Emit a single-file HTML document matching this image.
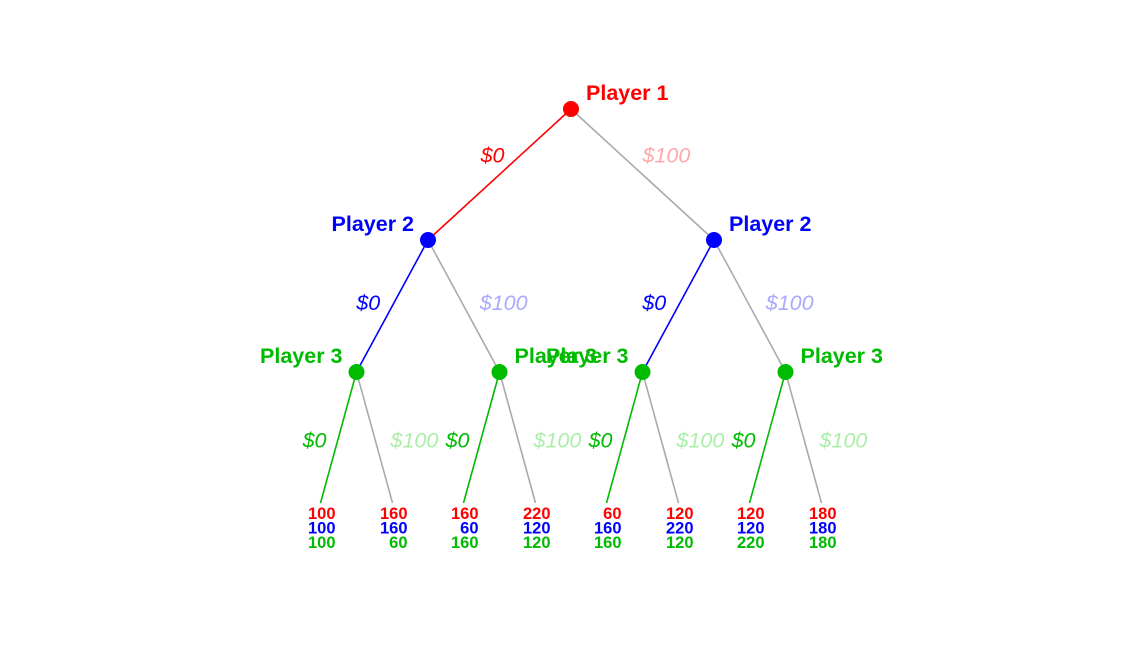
<!DOCTYPE html>
<html><head><meta charset="utf-8"><style>
html,body{margin:0;padding:0;background:#fff;}
svg{display:block;font-family:"Liberation Sans",Arial,sans-serif;}
</style></head><body>
<svg id="tree" width="1144" height="657" viewBox="0 0 1144 657"></svg>
<script>
const playerNames = ["Player 1","Player 2","Player 3"];
const actionLabels = ["$0","$100"];
const payoffP1 = [100,160,160,220,60,120,120,180];
const payoffP2 = [100,160,60,120,160,220,120,180];
const payoffP3 = [100,60,160,120,160,120,220,180];
const chosen = [0,0,0];

const svg = document.getElementById('tree');
const NS = 'http://www.w3.org/2000/svg';
const colors = ['#ff0000','#0000ff','#00bb00'];
const faded = ['#ffaaaa','#aaaaff','#aaeeaa'];
const levelY = [109,240,372,503];
const rootX = 571, halfW = [143,71.5,36];

function el(tag, attrs, text){
  const e = document.createElementNS(NS, tag);
  for (const k in attrs) e.setAttribute(k, attrs[k]);
  if (text !== undefined) e.textContent = text;
  svg.appendChild(e);
  return e;
}
const xs = [[rootX]];
for (let l=1;l<=3;l++){ xs[l]=[]; xs[l-1].forEach(x=>{ xs[l].push(x-halfW[l-1], x+halfW[l-1]); }); }

for (let l=0;l<3;l++){
  xs[l].forEach((x,i)=>{
    for (let a=0;a<2;a++){
      const cx = xs[l+1][i*2+a];
      const line = el('line',{x1:x,y1:levelY[l],x2:cx,y2:levelY[l+1],stroke:a===chosen[l]?colors[l]:'#aaaaaa','stroke-width':1.6});
      
      
      const mx=(x+cx)/2, my=(levelY[l]+levelY[l+1])/2;
      let tx, anchor, ty;
      if (l===0){ tx = a===0? mx+5 : mx; ty = my-12; }
      else { tx = a===0? mx-12 : mx+16; ty = my+4+ (l===2?6:0); }
      anchor = a===0?'end':'start';
      const t = el('text',{x:tx,y:ty,'text-anchor':anchor,'font-size':21.5,'font-style':'italic',fill:a===0?colors[l]:faded[l]},actionLabels[a]);
      
      
    }
  });
}
for (let l=0;l<3;l++){
  xs[l].forEach((x,i)=>{
    const c = el('circle',{cx:x,cy:levelY[l],r:8,fill:colors[l]});
    
    
    const right = (l===0) || (i%2===1);
    const t = el('text',{x:right?x+15:x-14,y:levelY[l]-9,'text-anchor':right?'start':'end','font-size':21.5,'font-weight':'bold',fill:colors[l]},playerNames[l]);
    
    
  });
}
const pays=[payoffP1,payoffP2,payoffP3];
xs[3].forEach((x,i)=>{
  for (let p=0;p<3;p++){
    const t = el('text',{x:x+15,y:519+p*14.5,'text-anchor':'end','font-size':16.5,'font-weight':'bold',fill:colors[p]},pays[p][i]);
    
    
  }
});
</script>
</body></html>
